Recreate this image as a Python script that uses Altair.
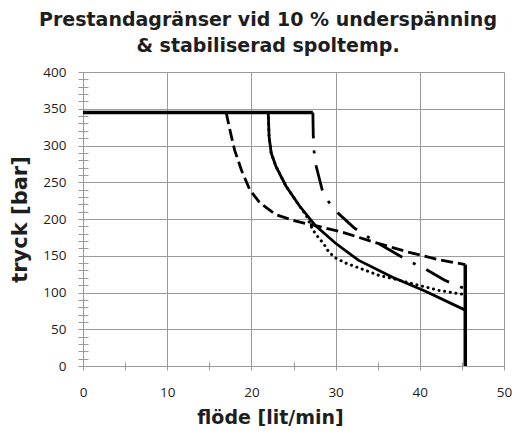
import altair as alt
import pandas as pd

# ---- data ----
top_x = [0.0, 27.3]
top_y = [345, 345]
end_x = [45.4, 45.4]
end_y = [138, 0]

dashed_x = [17.0, 17.45, 18.0, 18.8, 19.8, 21.0, 22.9, 25.3, 27.6, 30.8, 34.7, 38.6, 42.5, 45.4]
dashed_y = [345, 321, 294, 267, 240, 222, 206, 197, 191, 182, 168, 155, 144, 138]

solid_x = [22.0, 22.1, 22.35, 22.9, 24.1, 25.7, 27.6, 30.0, 32.7, 36.7, 40.6, 45.4]
solid_y = [345, 312, 290, 272, 245, 218, 191, 167, 144, 121, 102, 76]

dotted_x = [22.0, 22.1, 22.35, 22.9, 24.1, 25.7, 26.6, 27.25, 27.8, 28.6, 29.2, 30.0, 31.2, 33.1, 35.1, 37.1, 39.8, 42.2, 45.4]
dotted_y = [345, 312, 290, 272, 245, 218, 203, 186, 177, 166, 155, 147, 140, 132, 123.5, 118, 110, 103, 97]

dashdot_x = [27.3, 27.35, 27.45, 27.6, 28.4, 29.0, 30.0, 32.2, 33.5, 34.9, 37.6, 38.8, 40.2, 42.9, 44.3, 45.4]
dashdot_y = [345, 312, 292, 276, 240, 226, 211, 188, 178, 168, 150, 142, 135, 117, 110, 105]

x_ticks = list(range(0, 51, 5))
y_ticks = list(range(0, 401, 10))

title_lines = ["Prestandagränser vid 10 % underspänning", "& stabiliserad spoltemp."]
x_title = "flöde [lit/min]"
y_title = "tryck [bar]"

rows = []
for name, xs, ys in [("top", top_x, top_y), ("end", end_x, end_y),
                     ("dashed", dashed_x, dashed_y), ("solid", solid_x, solid_y),
                     ("dotted", dotted_x, dotted_y), ("dashdot", dashdot_x, dashdot_y)]:
    for i, (a, b) in enumerate(zip(xs, ys)):
        rows.append({"series": name, "i": i, "x": a, "y": b})
df = pd.DataFrame(rows)

GRID = "#9a9a9a"
TXT = "#1e1e1e"

x_axis = alt.Axis(
    values=x_ticks,
    labelExpr="datum.value % 10 === 0 ? datum.label : ''",
    grid=True,
    gridColor=GRID,
    gridWidth=1,
    gridOpacity={"condition": {"test": "datum.value % 10 === 0", "value": 1}, "value": 0},
    tickColor=GRID,
    tickSize=8,
    offset=-4,
    domain=False,
    labelFont="Open Sans",
    labelFontSize=13.5,
    labelColor=TXT,
    labelPadding=15,
    labelOverlap=False,
    labelFlush=False,
    title=x_title,
    titleFont="DejaVu Sans",
    titleFontSize=19,
    titleFontWeight="bold",
    titleColor=TXT,
    titleX=187,
    titleY=61,
    titleBaseline="alphabetic",
    titleAlign="center",
)

y_axis = alt.Axis(
    values=y_ticks,
    labelExpr="datum.value % 50 === 0 ? datum.label : ''",
    grid=True,
    gridColor=GRID,
    gridWidth=1,
    gridOpacity={"condition": {"test": "datum.value % 50 === 0", "value": 1}, "value": 0},
    tickColor=GRID,
    tickSize=10,
    offset=-5,
    domain=False,
    labelFont="Open Sans",
    labelFontSize=13.5,
    labelColor=TXT,
    labelPadding=12,
    labelOverlap=False,
    title=y_title,
    titleFont="DejaVu Sans",
    titleFontSize=21,
    titleFontWeight="bold",
    titleColor=TXT,
    titleX=-68,
    titleY=147,
    titleAngle=270,
    titleBaseline="middle",
    titleAlign="center",
)

base = alt.Chart(df).encode(
    x=alt.X("x:Q", scale=alt.Scale(domain=[0, 50], nice=False), axis=x_axis),
    y=alt.Y("y:Q", scale=alt.Scale(domain=[0, 400], nice=False), axis=y_axis),
    order=alt.Order("i:Q"),
)

def sel(name):
    return base.transform_filter(alt.datum.series == name)

boundary_top = sel("top").mark_line(color="black", strokeWidth=3.5)
boundary_end = sel("end").mark_line(color="black", strokeWidth=3.5)
dashed = sel("dashed").mark_line(color="black", strokeWidth=2.8, strokeDash=[12, 5])
solid = sel("solid").mark_line(color="black", strokeWidth=2.8)
dotted = sel("dotted").mark_line(color="black", strokeWidth=3, strokeDash=[0.1, 5.6], strokeCap="round")
dashdot = sel("dashdot").mark_line(color="black", strokeWidth=2.8, strokeDash=[26, 12, 3, 12])

chart = alt.layer(dotted, dashed, dashdot, solid, boundary_top, boundary_end).properties(
    width=421,
    height=294,
    autosize=alt.AutoSizeParams(type="none"),
    padding={"left": 75, "top": 64, "right": 8, "bottom": 60},
    title=alt.TitleParams(
        text=title_lines,
        font="DejaVu Sans",
        fontSize=19,
        fontWeight="bold",
        color=TXT,
        lineHeight=26.5,
        anchor="middle",
        dx=-25.5,
        offset=9,
    ),
).configure_view(strokeWidth=0)

chart.save("out.html", embed_options={"renderer": "svg", "actions": False})
